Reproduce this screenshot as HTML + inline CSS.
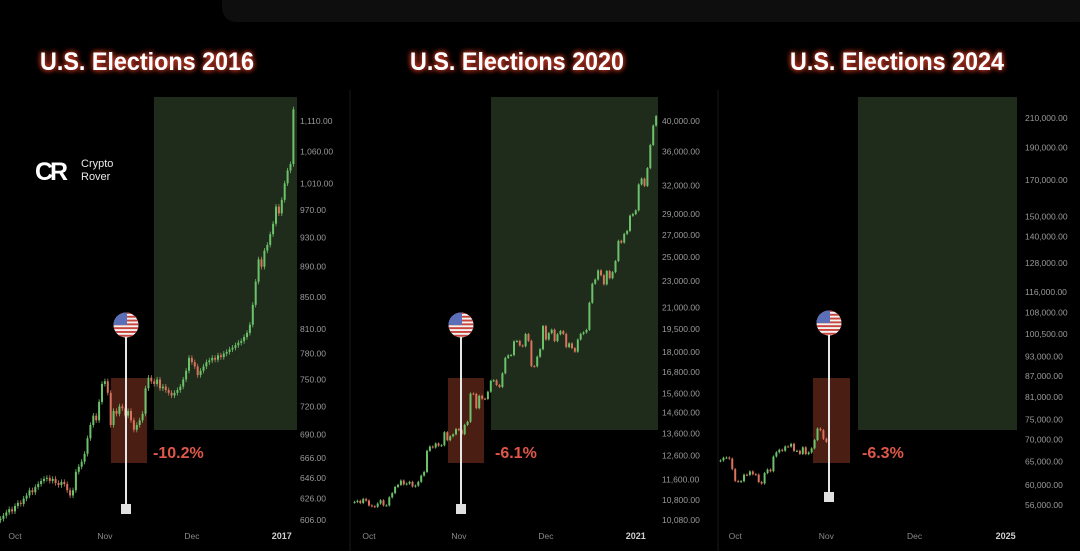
<!DOCTYPE html>
<html><head><meta charset="utf-8">
<style>
html,body{margin:0;padding:0;background:#000;width:1080px;height:551px;overflow:hidden}
svg{display:block}
</style></head>
<body>
<svg id="chart" width="1080" height="551" viewBox="0 0 1080 551" xmlns="http://www.w3.org/2000/svg">
<defs>
<filter id="glow" x="-20%" y="-50%" width="140%" height="200%">
<feGaussianBlur in="SourceAlpha" stdDeviation="3" result="b"/>
<feFlood flood-color="#e0402a" flood-opacity="0.9"/>
<feComposite in2="b" operator="in" result="g"/>
<feMerge><feMergeNode in="g"/><feMergeNode in="g"/><feMergeNode in="SourceGraphic"/></feMerge>
</filter>
<clipPath id="flagclip"><circle cx="0" cy="0" r="12.5"/></clipPath>
</defs>
<rect x="0" y="0" width="1080" height="551" fill="#000"/>
<rect x="222" y="-12" width="870" height="34" rx="14" fill="#0e0e0e"/>
<line x1="350" y1="90" x2="350" y2="551" stroke="#0d0d0d" stroke-width="2"/>
<line x1="718" y1="90" x2="718" y2="551" stroke="#0d0d0d" stroke-width="2"/>
<g id="logo">
<text x="35" y="180" font-family="Liberation Sans, sans-serif" font-weight="bold" font-size="25" fill="#fff" letter-spacing="-3">CR</text>
<text x="81" y="167" font-family="Liberation Sans, sans-serif" font-size="11" fill="#e8e8e8">Crypto</text>
<text x="81" y="180" font-family="Liberation Sans, sans-serif" font-size="11" fill="#e8e8e8">Rover</text>
</g>
<g id="layer"></g>
</svg>
<script>
// ---- data ----
const titles = ["U.S. Elections 2016", "U.S. Elections 2020", "U.S. Elections 2024"];
const drawdowns = ["-10.2%", "-6.1%", "-6.3%"];
const xLabels2016 = ["Oct", "Nov", "Dec", "2017"];
const xLabels2020 = ["Oct", "Nov", "Dec", "2021"];
const xLabels2024 = ["Oct", "Nov", "Dec", "2025"];
const xLabelDays = [5, 36, 66, 97];
const ticks2016 = [1110, 1060, 1010, 970, 930, 890, 850, 810, 780, 750, 720, 690, 666, 646, 626, 606];
const ticks2020 = [40000, 36000, 32000, 29000, 27000, 25000, 23000, 21000, 19500, 18000, 16800, 15600, 14600, 13600, 12600, 11600, 10800, 10080];
const ticks2024 = [210000, 190000, 170000, 150000, 140000, 128000, 116000, 108000, 100500, 93000, 87000, 81000, 75000, 70000, 65000, 60000, 56000];
const closes2016 = [607,610,613,616,614,619,622,621,626,629,
 634,632,637,640,643,645,646,643,645,641,
 639,642,640,634,629,634,652,657,662,670,
 686,700,710,705,725,745,748,735,700,715,
 712,720,718,710,715,705,695,700,705,712,
 740,752,748,745,750,740,742,738,735,732,
 735,738,742,750,760,775,770,765,755,760,
 765,770,772,775,773,778,776,780,782,785,
 787,790,793,795,800,805,815,840,870,900,
 890,912,920,935,950,975,965,985,1010,1030,
 1040,1130];
const closes2020 = [10730,10770,10690,10840,10780,10600,10570,10550,10670,10790,
 10600,10600,10900,11060,11300,11380,11550,11400,11430,11500,
 11320,11350,11500,11750,11900,12800,12990,12950,13130,13030,
 13050,13650,13280,13460,13550,13800,13750,13560,14000,14150,
 15600,15580,14830,15480,15330,15310,15700,16300,16330,16070,
 15960,16730,17650,17800,17820,18680,18710,18420,18370,19160,
 18720,17150,17140,17720,18180,19700,18800,19220,19450,18700,
 19150,19360,19170,18320,18550,18250,18030,18800,19170,19270,
 19440,21350,22800,23130,23870,23480,22750,23820,23240,23730,
 24660,26440,26280,27080,27360,28840,29000,29370,32130,32780,
 31970,33990,36820,39370,40670];
const closes2024 = [65200,65800,65850,65600,63300,60800,60650,60750,62100,62050,
 62800,62200,62130,60580,60270,62450,63200,62850,66080,67040,
 67620,67400,68390,68360,69000,67370,67380,66680,68200,66650,
 67000,67950,69900,72700,72300,70200,69500];

// ---- panel geometry ----
const panels = [
 {x0:0.5, step:2.9, base:606, y0:520, k:659, axisX:300, labels:xLabels2016, ticks:ticks2016, closes:closes2016,
  cx:147, green:[154,97,143,333], red:[111,378,36,85], flag:[126,325,509], pct:[153,458], lblY:539},
 {x0:354.5, step:2.9, base:10080, y0:520, k:289.5, axisX:662, labels:xLabels2020, ticks:ticks2020, closes:closes2020,
  cx:517, green:[491,97,167,333], red:[448,378,36,85], flag:[461,325,509], pct:[495,458], lblY:539},
 {x0:720.5, step:2.94, base:56000, y0:505, k:292.8, axisX:1025, labels:xLabels2024, ticks:ticks2024, closes:closes2024,
  cx:897, green:[858,97,159,333], red:[813,378,37,85], flag:[829,323,497], pct:[862,458], lblY:539}
];
const NS = "http://www.w3.org/2000/svg";
const layer = document.getElementById("layer");
function mk(tag, attrs, parent){
  const e = document.createElementNS(NS, tag);
  for (const a in attrs) e.setAttribute(a, attrs[a]);
  (parent||layer).appendChild(e);
  return e;
}
panels.forEach((p, pi) => {
  const yS = v => p.y0 - p.k * Math.log(v / p.base);
  const xS = d => p.x0 + d * p.step;
  const g = mk("g", {});
  
  
  const t = mk("text", {x:p.cx, y:70, "text-anchor":"middle", "font-family":"Liberation Sans, sans-serif", "font-weight":"bold", "font-size":"25", fill:"#fff", filter:"url(#glow)", textLength:"214", lengthAdjust:"spacingAndGlyphs"}, g);
  t.textContent = titles[pi];
  
  
  const gb = mk("rect", {x:p.green[0], y:p.green[1], width:p.green[2], height:p.green[3], fill:"#1f2b1b"}, g);
  
  
  const rb = mk("rect", {x:p.red[0], y:p.red[1], width:p.red[2], height:p.red[3], fill:"#4a1e12"}, g);
  
  
  p.ticks.forEach(v => {
    const tt = mk("text", {x:p.axisX, y:yS(v)+3, "font-family":"Liberation Sans, sans-serif", "font-size":"8.5", fill:"#9a9a9a"}, g);
    tt.textContent = v.toLocaleString("en-US") + ".00";
    
    
  });
  p.labels.forEach((l, i) => {
    const last = i === p.labels.length - 1;
    const xt = mk("text", {x:xS(xLabelDays[i]), y:p.lblY, "text-anchor":"middle", "font-family":"Liberation Sans, sans-serif", "font-size":last?"9":"8.5", "font-weight":last?"bold":"normal", fill:last?"#d0d0d0":"#8a8a8a"}, g);
    xt.textContent = l;
    
    
  });
  p.closes.forEach((c, i) => {
    const o = i === 0 ? c * 0.998 : p.closes[i-1];
    const up = c >= o;
    const col = up ? "#6cc26a" : "#d9735c";
    const hi = Math.max(o, c) * 1.004, lo = Math.min(o, c) * 0.996;
    const x = xS(i);
    const w = mk("line", {x1:x, x2:x, y1:yS(hi), y2:yS(lo), stroke:col, "stroke-width":"0.8"}, g);
    
    
    const top = yS(Math.max(o, c)), bot = yS(Math.min(o, c));
    const b = mk("rect", {x:x-1, y:top, width:2, height:Math.max(1, bot-top), fill:col}, g);
    
    
  });
  const fx = p.flag[0], fy = p.flag[1], sy = p.flag[2];
  const stick = mk("line", {x1:fx, x2:fx, y1:fy+12, y2:sy-4, stroke:"#e6e6e6", "stroke-width":"2"}, g);
  
  
  const sq = mk("rect", {x:fx-5, y:sy-5, width:10, height:10, fill:"#e0e0e0"}, g);
  
  
  const fg = mk("g", {transform:"translate("+fx+","+fy+")", "clip-path":"url(#flagclip)"}, g);
  
  
  mk("rect", {x:-13, y:-13, width:26, height:26, fill:"#f2f2f2"}, fg);
  for (let s = 0; s < 7; s++) mk("rect", {x:-13, y:-13 + s*3.8, width:26, height:1.9, fill:"#c8443c"}, fg);
  mk("rect", {x:-13, y:-13, width:14, height:13, fill:"#5a6fb8"}, fg);
  const pt = mk("text", {x:p.pct[0], y:p.pct[1], "font-family":"Liberation Sans, sans-serif", "font-weight":"bold", "font-size":"16", fill:"#e0574a"}, g);
  pt.textContent = drawdowns[pi];
  
  
});
</script>
</body></html>
